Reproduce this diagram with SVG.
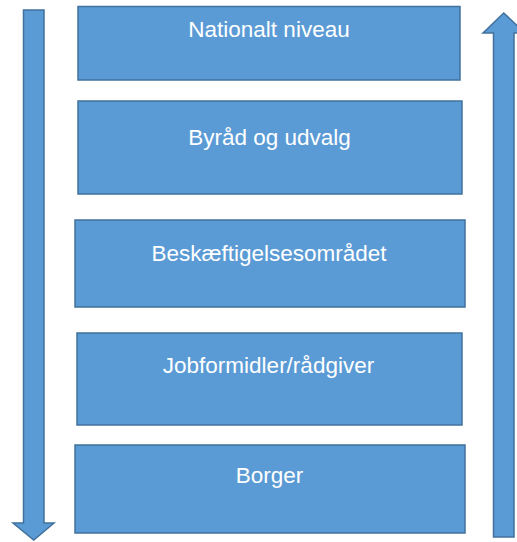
<svg xmlns="http://www.w3.org/2000/svg" width="517" height="542" viewBox="0 0 517 542">
<style>
.box{fill:#5b9bd5;stroke:#41719c;stroke-width:1.5}
.arr{fill:#5b9bd5;stroke:#41719c;stroke-width:1.5;stroke-linejoin:miter}
.lbl{font-family:"Liberation Sans",Arial,sans-serif;font-size:22.5px;fill:#ffffff;text-anchor:middle}
</style>
<rect width="517" height="542" fill="#ffffff"/>
<g id="connectors">
<path class="arr" d="M23.5,10 H44 V523 H54 L33.75,540 L13,523 H23.5 Z"/>
<path class="arr" d="M493.5,537 V33 H483 L503.75,13 L525,33 H514 V537 Z"/>
</g>
<g id="node1"><rect class="box" x="78" y="6.5" width="382" height="73.5"/><text class="lbl" x="269" y="37">Nationalt niveau</text></g>
<g id="node2"><rect class="box" x="78" y="101" width="384" height="93"/><text class="lbl" x="269.5" y="145">Byråd og udvalg</text></g>
<g id="node3"><rect class="box" x="75" y="220" width="390" height="87"/><text class="lbl" x="269" y="261">Beskæftigelsesområdet</text></g>
<g id="node4"><rect class="box" x="77" y="333" width="385" height="92"/><text class="lbl" x="268.5" y="373">Jobformidler/rådgiver</text></g>
<g id="node5"><rect class="box" x="75" y="445" width="390" height="88"/><text class="lbl" x="269.5" y="483">Borger</text></g>
</svg>
